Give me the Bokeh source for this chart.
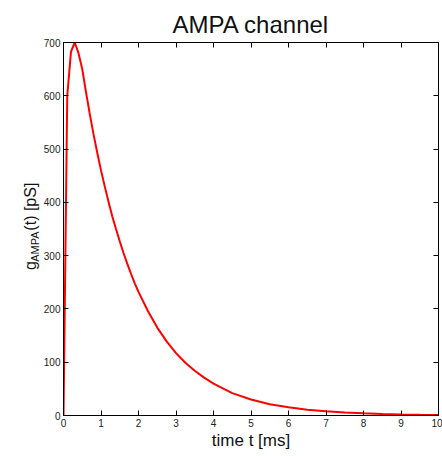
from bokeh.plotting import figure
from bokeh.models import LinearAxis, Label, FixedTicker, Range1d, CustomLabelingPolicy
from bokeh.layouts import row
from bokeh.embed import file_html
from bokeh.resources import INLINE
import math

# Data
t_ms = [0.0, 0.1, 0.2, 0.3, 0.4, 0.5, 0.6, 0.7, 0.8, 0.9, 1.0, 1.1, 1.2, 1.3,
        1.4, 1.5, 1.6, 1.7, 1.8, 1.9, 2.0, 2.25, 2.5, 2.75, 3.0, 3.25, 3.5, 3.75,
        4.0, 4.5, 5.0, 5.5, 6.0, 6.5, 7.0, 7.5, 8.0, 8.5, 9.0, 9.5, 10.0]
g_pS = [0, 600, 683, 700, 680, 650, 607, 566, 528, 493, 460, 430, 401, 374,
        350, 327, 305, 285, 266, 248, 232, 196, 165, 139, 117, 99, 84, 71,
        60, 42, 30, 21, 15.5, 11, 8, 5.7, 4.1, 2.9, 2.1, 1.5, 1.1]
x_ticks = [0, 1, 2, 3, 4, 5, 6, 7, 8, 9, 10]
y_ticks = [0, 100, 200, 300, 400, 500, 600, 700]
title_text = "AMPA channel"
xlabel_text = "time t [ms]"
ylabel_parts = ["g", "AMPA", "(t) [pS]"]

FONT = "Liberation Sans"
TXT = "#111111"

LEFT_W = 40
H = 456

# Narrow panel on the left that carries the y-axis label (with subscript)
pl = figure(width=LEFT_W, height=H, output_backend="svg", toolbar_location=None,
            x_range=Range1d(0, LEFT_W), y_range=Range1d(0, H),
            x_axis_type=None, y_axis_type=None, min_border=0)
pl.xgrid.visible = False
pl.ygrid.visible = False
pl.outline_line_color = None
pl.background_fill_color = "white"
pl.border_fill_color = "white"

def yy(py):
    return H - py

pl.add_layout(Label(x=30, y=yy(278), text=ylabel_parts[0], angle=math.pi / 2,
                    text_font=FONT, text_font_size="16px", text_align="left",
                    text_baseline="alphabetic", text_color=TXT))
pl.add_layout(Label(x=34, y=yy(268), text=ylabel_parts[1], angle=math.pi / 2,
                    text_font=FONT, text_font_size="11px", text_align="left",
                    text_baseline="alphabetic", text_color=TXT))
pl.add_layout(Label(x=30, y=yy(230), text=ylabel_parts[2], angle=math.pi / 2,
                    text_font=FONT, text_font_size="16px", text_align="left",
                    text_baseline="alphabetic", text_color=TXT))

# Main plot
p = figure(width=442 - LEFT_W, height=H, output_backend="svg", toolbar_location=None,
           x_range=Range1d(0, 10), y_range=Range1d(0, 700),
           min_border_left=63 - LEFT_W, min_border_right=4, min_border_top=42,
           min_border_bottom=41)
p.xgrid.visible = False
p.ygrid.visible = False
p.outline_line_color = "black"
p.outline_line_width = 1
p.background_fill_color = "white"
p.border_fill_color = "white"

p.title.text = title_text
p.title.text_font = FONT
p.title.text_font_size = "24px"
p.title.text_font_style = "normal"
p.title.text_color = TXT
p.title.align = "center"

p.line(t_ms, g_pS, line_color="#ff0000", line_width=2)

no_labels = CustomLabelingPolicy(code="return []")

def style(ax, ticks, labels=True):
    ax.ticker = FixedTicker(ticks=ticks)
    ax.axis_line_color = "black"
    ax.major_tick_line_color = "black"
    ax.minor_tick_line_color = None
    ax.major_tick_in = 5
    ax.major_tick_out = 0
    ax.major_label_text_font = FONT
    ax.major_label_text_font_size = "10px"
    ax.major_label_text_color = "#222222"
    ax.major_label_standoff = 3 if labels else 0
    if not labels:
        ax.major_label_overrides = {t: "" for t in ticks}
        ax.major_label_policy = no_labels
        ax.axis_label_standoff = 0

xa = p.xaxis[0]
style(xa, x_ticks)
xa.axis_label = xlabel_text
xa.axis_label_text_font = FONT
xa.axis_label_text_font_size = "17px"
xa.axis_label_text_font_style = "normal"
xa.axis_label_text_color = TXT
xa.axis_label_standoff = 1

ya = p.yaxis[0]
style(ya, y_ticks)

top = LinearAxis()
style(top, x_ticks, labels=False)
p.add_layout(top, "above")
right = LinearAxis()
style(right, y_ticks, labels=False)
p.add_layout(right, "right")

layout = row(pl, p, spacing=0)
open("out.html", "w").write(file_html(layout, INLINE))
